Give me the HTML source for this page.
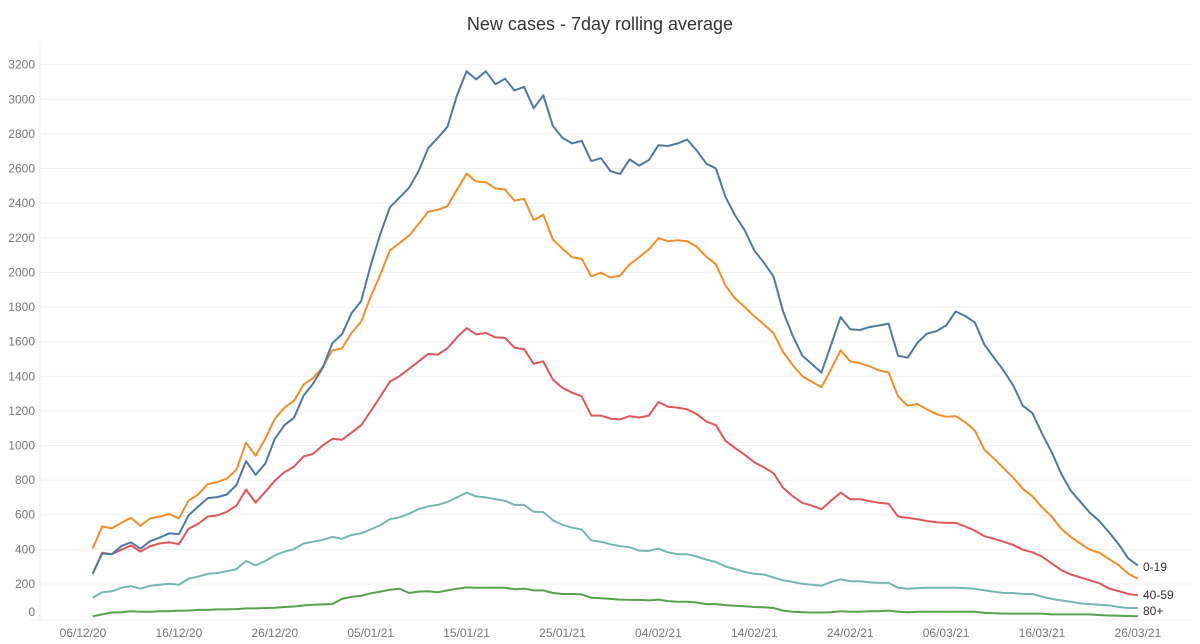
<!DOCTYPE html>
<html><head><meta charset="utf-8"><style>
html,body{margin:0;padding:0;background:#fff;}
svg{display:block;font-family:"Liberation Sans",sans-serif;}
</style></head><body>
<svg id="chart" width="1200" height="644" viewBox="0 0 1200 644">
<text x="600" y="30" text-anchor="middle" font-size="18" fill="#333">New cases - 7day rolling average</text>
<g id="grid"></g><g id="axes"></g><g id="lines"></g><g id="labels"></g>
</svg>
<script>
const yTicks=[0,200,400,600,800,1000,1200,1400,1600,1800,2000,2200,2400,2600,2800,3000,3200];
const xTickLabels=["06/12/20","16/12/20","26/12/20","05/01/21","15/01/21","25/01/21","04/02/21","14/02/21","24/02/21","06/03/21","16/03/21","26/03/21"];
const seriesNames=["0-19","20-39","40-59","60-79","80+"];
const s0_19=[259,376,372,419,441,404,447,468,493,487,596,647,696,702,717,771,910,831,895,1038,1117,1160,1288,1358,1450,1591,1642,1764,1834,2041,2222,2376,2432,2489,2585,2718,2777,2841,3023,3162,3115,
3162,3087,3119,3051,3072,2948,3023,2846,2777,2745,2760,2643,2660,2585,2568,2653,2617,2649,2735,2730,2745,2767,2703,2628,2600,2436,2329,2244,2126,2056,1977,1774,1635,1518,1471,1422,1580,1742,1672,1667,1684,1693,
1704,1518,1507,1593,1646,1661,1693,1774,1748,1710,1582,1507,1433,1347,1230,1187,1070,963,837,739,675,611,562,498,430,348,306];
const s20_39=[404,532,521,553,583,536,579,589,604,579,681,717,777,788,809,860,1016,941,1038,1155,1219,1258,1352,1390,1454,1550,1561,1650,1715,1860,1988,2127,2169,2212,2280,2351,2361,2383,2479,2570,2525,
2521,2485,2479,2415,2425,2303,2333,2190,2137,2088,2079,1977,1998,1971,1981,2047,2088,2133,2197,2180,2186,2180,2148,2090,2047,1924,1849,1800,1747,1699,1650,1539,1465,1401,1368,1336,1440,1550,1486,1476,1458,1433,
1422,1283,1230,1240,1209,1181,1166,1170,1134,1085,974,925,868,814,750,707,643,590,519,472,434,398,380,344,308,259,231];
const s40_59=[259,380,372,398,423,387,419,434,441,430,519,547,589,596,617,653,745,670,732,796,845,878,937,952,1001,1038,1033,1074,1117,1198,1283,1369,1401,1443,1486,1529,1525,1561,1625,1678,1642,
1650,1625,1621,1565,1557,1472,1486,1380,1333,1305,1284,1173,1173,1155,1151,1170,1162,1173,1251,1224,1219,1209,1181,1138,1117,1027,985,946,903,874,840,755,707,669,653,632,681,728,690,690,679,669,
664,589,583,574,564,557,553,553,532,508,476,461,444,425,398,383,359,319,280,255,238,221,204,174,159,142,135];
const s60_79=[120,152,158,178,188,173,190,195,201,195,231,242,259,263,274,286,333,308,333,365,387,401,434,444,455,472,461,483,493,515,540,574,585,606,632,649,657,674,700,728,706,
700,690,681,657,657,617,615,568,542,525,515,451,444,429,419,412,393,391,404,383,372,372,359,340,327,301,286,270,259,255,238,221,212,201,195,190,212,227,216,216,210,206,
206,178,173,176,178,178,178,178,176,172,163,156,148,148,142,142,127,114,105,97,88,84,80,76,67,61,61];
const s80p=[13,24,35,37,43,40,40,42,42,46,46,50,50,53,53,55,59,59,61,63,67,70,76,80,82,84,114,126,131,146,156,167,173,148,156,158,152,163,173,180,178,
178,178,178,169,173,163,163,148,142,142,140,120,118,114,110,108,108,105,110,101,97,97,93,84,84,78,74,71,67,65,61,46,40,37,35,35,37,42,40,40,42,42,
46,40,37,40,40,40,40,40,40,40,33,31,29,29,29,29,29,24,24,24,24,24,20,18,16,15,13];
const allSeries=[s0_19,s20_39,s40_59,s60_79,s80p];
const colors=["#4e79a7","#f28e2b","#e15759","#76b7b2","#59a14f"];
const endLabels=[{i:0,t:"0-19",y:571},{i:2,t:"40-59",y:599},{i:4,t:"80+",y:615}];

const NS="http://www.w3.org/2000/svg";
const X0=83, DX=9.59, Y0=618.6, KY=0.1731;
function xs(d){return X0+d*DX;}
function ys(v){return Y0-v*KY;}
function mk(tag,attrs,parent){const e=document.createElementNS(NS,tag);for(const k in attrs)e.setAttribute(k,attrs[k]);parent.appendChild(e);return e;}
const grid=document.getElementById('grid'),axes=document.getElementById('axes'),lines=document.getElementById('lines'),labels=document.getElementById('labels');
yTicks.forEach(v=>{
  if(v>0){const g=mk('line',{x1:40,x2:1192,y1:ys(v),y2:ys(v),stroke:'#f0f0f0','stroke-width':1},grid);
  
  }
  const t=mk('text',{x:35,y:Math.min(ys(v),612)+4,'text-anchor':'end','font-size':12,fill:'#777'},axes);
  t.textContent=v;
  
  
});
const va=mk('line',{x1:40,x2:40,y1:42,y2:620,stroke:'#eee','stroke-width':1},axes);


const ha=mk('line',{x1:30,x2:1192,y1:620,y2:620,stroke:'#ececec','stroke-width':1},axes);


xTickLabels.forEach((l,i)=>{
  const t=mk('text',{x:xs(i*10),y:637,'text-anchor':'middle','font-size':12,fill:'#777'},axes);
  t.textContent=l;
  
  
});
[3,2,1,0,4].forEach(si=>{
  const data=allSeries[si];
  const pts=data.map((v,i)=>xs(i+1).toFixed(1)+','+ys(v).toFixed(1)).join(' ');
  const p=mk('polyline',{points:pts,fill:'none',stroke:colors[si],'stroke-width':2,'stroke-linejoin':'round'},lines);
  
  
});
endLabels.forEach(e=>{
  const t=mk('text',{x:1143,y:e.y,'font-size':12,fill:'#333'},labels);
  t.textContent=e.t;
  
  
});
</script>
</body></html>
